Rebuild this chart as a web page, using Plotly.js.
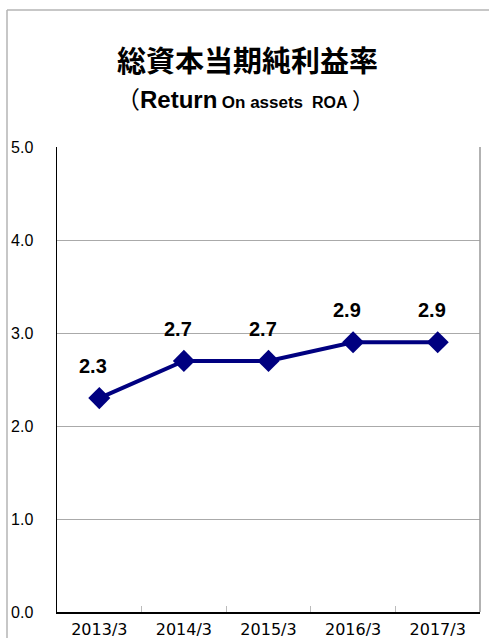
<!DOCTYPE html>
<html>
<head>
<meta charset="utf-8">
<script src="https://cdn.plot.ly/plotly-3.0.1.min.js"></script>
<style>
  html, body { margin: 0; padding: 0; background: #fff; }
  #chart { width: 489px; height: 638px; }
</style>
</head>
<body>
<div id="chart"></div>
<script>
const categories = ['2013/3', '2014/3', '2015/3', '2016/3', '2017/3'];
const roaValues = [2.3, 2.7, 2.7, 2.9, 2.9];
const valueLabels = ['2.3', '2.7', '2.7', '2.9', '2.9'];

const trace = {
  type: 'scatter',
  mode: 'lines+markers',
  x: categories,
  y: roaValues,
  line: { color: '#000080', width: 4 },
  marker: { symbol: 'diamond', size: 17, color: '#000080' },
  hoverinfo: 'skip',
  cliponaxis: false
};

const labelAnnotations = categories.map((c, i) => ({
  x: c, y: roaValues[i], xref: 'x', yref: 'y',
  text: '<b>' + valueLabels[i] + '</b>',
  showarrow: false, yshift: 32, xshift: -6,
  font: { family: 'Liberation Sans, Arial, sans-serif', size: 20, color: '#000' }
}));

const layout = {
  width: 489, height: 638,
  margin: { l: 57, r: 9, t: 147, b: 26 },
  paper_bgcolor: '#fff', plot_bgcolor: '#fff',
  showlegend: false,
  xaxis: {
    type: 'category', range: [-0.5, 4.5],
    showline: true, linecolor: '#000', linewidth: 1.5,
    showgrid: false, zeroline: false,
    tickson: 'boundaries', ticks: 'inside', ticklen: 6, tickcolor: '#bbb', tickwidth: 1,
    ticklabelstandoff: 2,
    tickfont: { family: 'DejaVu Sans, sans-serif', size: 16, color: '#000' },
    fixedrange: true
  },
  yaxis: {
    range: [0, 5], dtick: 1, tick0: 0, tickformat: '.1f',
    showline: true, linecolor: '#000', linewidth: 1.5,
    showgrid: true, gridcolor: '#aaa', gridwidth: 1,
    zeroline: false, ticks: '',
    ticklabelstandoff: 19,
    tickfont: { family: 'Liberation Sans, Arial, sans-serif', size: 16, color: '#000' },
    fixedrange: true
  },
  shapes: [
    { type: 'line', xref: 'paper', yref: 'paper', x0: 1, x1: 1, y0: 0, y1: 1,
      line: { color: '#999', width: 1.5 } },
    { type: 'line', xref: 'paper', yref: 'paper', x0: -0.1182, x1: -0.1182, y0: -0.2, y1: 1.2946,
      line: { color: '#b4b4b4', width: 1.5 } },
    { type: 'line', xref: 'paper', yref: 'paper', x0: -0.1182, x1: 1.1, y0: 1.2946, y1: 1.2946,
      line: { color: '#b4b4b4', width: 1.5 } }
  ],
  annotations: [
    { xref: 'paper', yref: 'paper', x: 0.451, y: 1.189, xanchor: 'center', yanchor: 'middle',
      showarrow: false,
      text: '<b>総資本当期純利益率</b>',
      font: { family: 'Noto Sans CJK JP, sans-serif', size: 29, weight: 900, color: '#000' } },
    { xref: 'paper', yref: 'paper', x: 0.444, y: 1.106, xanchor: 'center', yanchor: 'middle',
      showarrow: false,
      text: '<span style="font-family:Noto Sans CJK JP;font-size:24px">（</span><b><span style="font-size:24px">Return</span></b>\u00a0<b><span style="font-size:17px">On assets</span></b>\u00a0\u00a0<b><span style="font-size:16px">ROA</span></b>\u00a0<span style="font-family:Noto Sans CJK JP;font-size:22px">）</span>',
      font: { family: 'Liberation Sans, Arial, sans-serif', size: 16, color: '#000' } }
  ].concat(labelAnnotations)
};

Plotly.newPlot('chart', [trace], layout, { displayModeBar: false, staticPlot: true });
</script>
</body>
</html>
